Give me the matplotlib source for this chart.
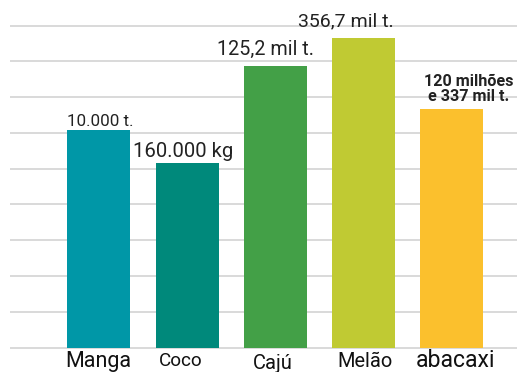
import matplotlib
matplotlib.use("Agg")
import matplotlib.pyplot as plt

plt.rcParams['font.family'] = ['Roboto', 'DejaVu Sans']

frutas = ["Manga", "Coco", "Cajú", "Melão", "abacaxi"]
alturas = [6.08, 5.16, 7.88, 8.66, 6.67]
rotulos = ["10.000 t.", "160.000 kg", "125,2 mil t.", "356,7 mil t.", "120 milhões\ne 337 mil t."]
cores = ["#0097a7", "#00897b", "#43a047", "#c0ca33", "#fbc02d"]

# ajustes finos de cada rotulo (pixels) e tamanho da fonte
rot_dx = [1, -4, -9.5, -17.5, 17]
rot_dy = [4, 6, 10.5, 11.5, 8.3]
rot_fs = [12.2, 14.6, 14.2, 14.0, 11.6]
rot_peso = ["normal", "normal", "normal", "normal", "bold"]
cat_dx = [-0.5, -6, -2.5, 1.5, 4.5]
cat_dy = [-19.5, -18.5, -21.5, -19.5, -19.5]
cat_fs = [15.5, 13.6, 14.5, 14.4, 16.6]

fig = plt.figure(figsize=(5.17, 3.72), dpi=100)
ax = fig.add_axes([10 / 517, 0, 507 / 517, 1])

x = list(range(len(frutas)))
for g in range(10):
    ax.axhline(g, color="#d9d9d9", lw=1.4, zorder=0)

barras = ax.bar(x, alturas, width=0.715, color=cores, zorder=2)

for i, b in enumerate(barras):
    ax.annotate(rotulos[i], (b.get_x() + b.get_width() / 2, b.get_height()),
                xytext=(rot_dx[i], rot_dy[i]), textcoords="offset pixels",
                ha="center", va="baseline", fontsize=rot_fs[i],
                fontweight=rot_peso[i], color="#222222", linespacing=1.0)
    ax.annotate(frutas[i], (b.get_x() + b.get_width() / 2, 0),
                xytext=(cat_dx[i], cat_dy[i]), textcoords="offset pixels",
                ha="center", va="baseline", fontsize=cat_fs[i], color="#111111")

ax.set_xlim(-1.01, 4.745)
ax.set_ylim(-0.685, 9.717)
ax.axis("off")

fig.savefig("out.png", dpi=100)
